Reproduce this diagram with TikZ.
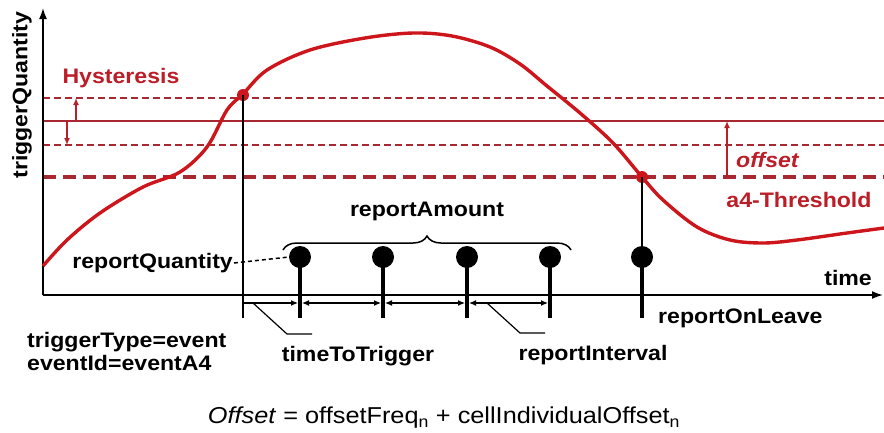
\documentclass[tikz,border=0pt]{standalone}
\usepackage{fontspec}
\setmainfont[FakeStretch=1.1]{Liberation Sans}
\usetikzlibrary{arrows.meta,decorations.pathreplacing}
\definecolor{curvered}{RGB}{204,22,28}
\definecolor{linered}{RGB}{168,40,50}
\definecolor{textred}{RGB}{188,30,40}

\begin{document}
\begin{tikzpicture}[x=1pt,y=-1pt,
  lbl/.style={font=\fontsize{21}{23}\selectfont\bfseries,inner sep=1pt},
  redlbl/.style={lbl,text=textred},
  reddot/.style={circle,fill=curvered,inner sep=0pt,minimum size=12pt},
  lolli/.style={circle,fill=black,inner sep=0pt,minimum size=22pt},
  stem/.style={line width=3.8pt},
  redarrow/.style={textred,line width=1.6pt,-{Latex[length=7pt,width=6pt]}},
  dimtip/.style={line width=1.2pt}]
  \useasboundingbox (0,0) rectangle (884,432);
  \coordinate (O) at (43,295);
  \coordinate (ytop) at (43,8);
  \coordinate (xend) at (883,295);
  \draw[linered,line width=1.8pt,dash pattern=on 7pt off 4pt] (43,98)--(884,98);
  \draw[linered,line width=1.3pt] (43,121)--(884,121);
  \draw[linered,line width=1.8pt,dash pattern=on 7pt off 4pt] (43,145)--(884,145);
  \draw[linered,line width=3.6pt,dash pattern=on 13pt off 7pt] (43,177)--(884,177);
  \draw[line width=1.6pt,-{Latex[length=11pt,width=8pt]}] (O)--(ytop);
  \draw[line width=1.6pt,-{Latex[length=11pt,width=8pt]}] (O)--(xend);
  \node[lbl,rotate=90] (yl) at (22,95) {triggerQuantity};
  \node[lbl,anchor=south east] (tl) at (873,287) {time};
  \draw[curvered,line width=3.4pt] plot[smooth,tension=0.55] coordinates {(43,266) (67,240) (100,213) (143,187) (180,172) (207,147) (227,110) (243,94) (267,70) (310,50) (365,38) (413,33) (452,36) (490,47) (520,64) (547,86) (580,113) (613,143) (642,177) (663,200) (697,227) (730,240) (763,243) (797,240) (847,233) (884,228)};
  \node[reddot] (trig) at (243,95) {};
  \node[reddot] (leave) at (642,177) {};
  \coordinate (trigbot) at (243,318);
  \draw[line width=1.3pt] (trig.center)--(trigbot);
  \foreach \x/\n in {300/1,383/2,467/3,550/4,642/5} {
    \node[lolli] (r\n) at (\x,257) {};
    \coordinate (s\n) at (\x,318);
    \draw[stem] (r\n.center)--(s\n);
  }
  \draw[line width=1.3pt] (leave.center)--(r5);
  \coordinate (d0) at (243,303);
  \foreach \x/\n in {300/1,383/2,467/3,550/4} \coordinate (d\n) at (\x,303);
  \draw[dimtip,-{Latex[length=7pt,width=6pt]}] (d0)--([xshift=-2pt]d1);
  \draw[dimtip,{Latex[length=7pt,width=6pt]}-{Latex[length=7pt,width=6pt]}] ([xshift=2pt]d1)--([xshift=-2pt]d2);
  \draw[dimtip,{Latex[length=7pt,width=6pt]}-{Latex[length=7pt,width=6pt]}] ([xshift=2pt]d2)--([xshift=-2pt]d3);
  \draw[dimtip,{Latex[length=7pt,width=6pt]}-{Latex[length=7pt,width=6pt]}] ([xshift=2pt]d3)--([xshift=-2pt]d4);
  \node[lbl] (ttt) at (358,356) {timeToTrigger};
  \node[lbl] (rint) at (593,355) {reportInterval};
  \draw[line width=1.2pt] (253,303)--(287,334)--(312,334);
  \draw[line width=1.2pt] (487,303)--(520,333)--(545,333);
  \node[lbl,anchor=west] (rol) at (657,318) {reportOnLeave};
  \node[lbl,anchor=east] (rq) at (234,263) {reportQuantity};
  \draw[line width=1.5pt,dash pattern=on 4pt off 3pt] (rq.east)--(r1.west);
  \draw[line width=1.5pt,decorate,decoration={brace,amplitude=14pt}] (283,250)--(571,250);
  \node[lbl] (ramt) at (427,211) {reportAmount};
  \node[lbl,anchor=west,align=left] (trt) at (26,351) {triggerType=event\\eventId=eventA4};
  \node[redlbl] (hys) at (121,78) {Hysteresis};
  \draw[redarrow] (76,121)--(76,98);
  \draw[redarrow] (67,121)--(67,145);
  \draw[redarrow] (727,177)--(727,121);
  \node[redlbl,font=\fontsize{21}{23}\selectfont\bfseries\itshape,anchor=west] (off) at (735,160) {offset};
  \node[redlbl] (thr) at (799,200) {a4-Threshold};
  \node[font=\fontsize{23}{26}\selectfont] (form) at (444,418) {\textit{Offset} = offsetFreq\textsubscript{n} + cellIndividualOffset\textsubscript{n}};
\end{tikzpicture}
\end{document}
